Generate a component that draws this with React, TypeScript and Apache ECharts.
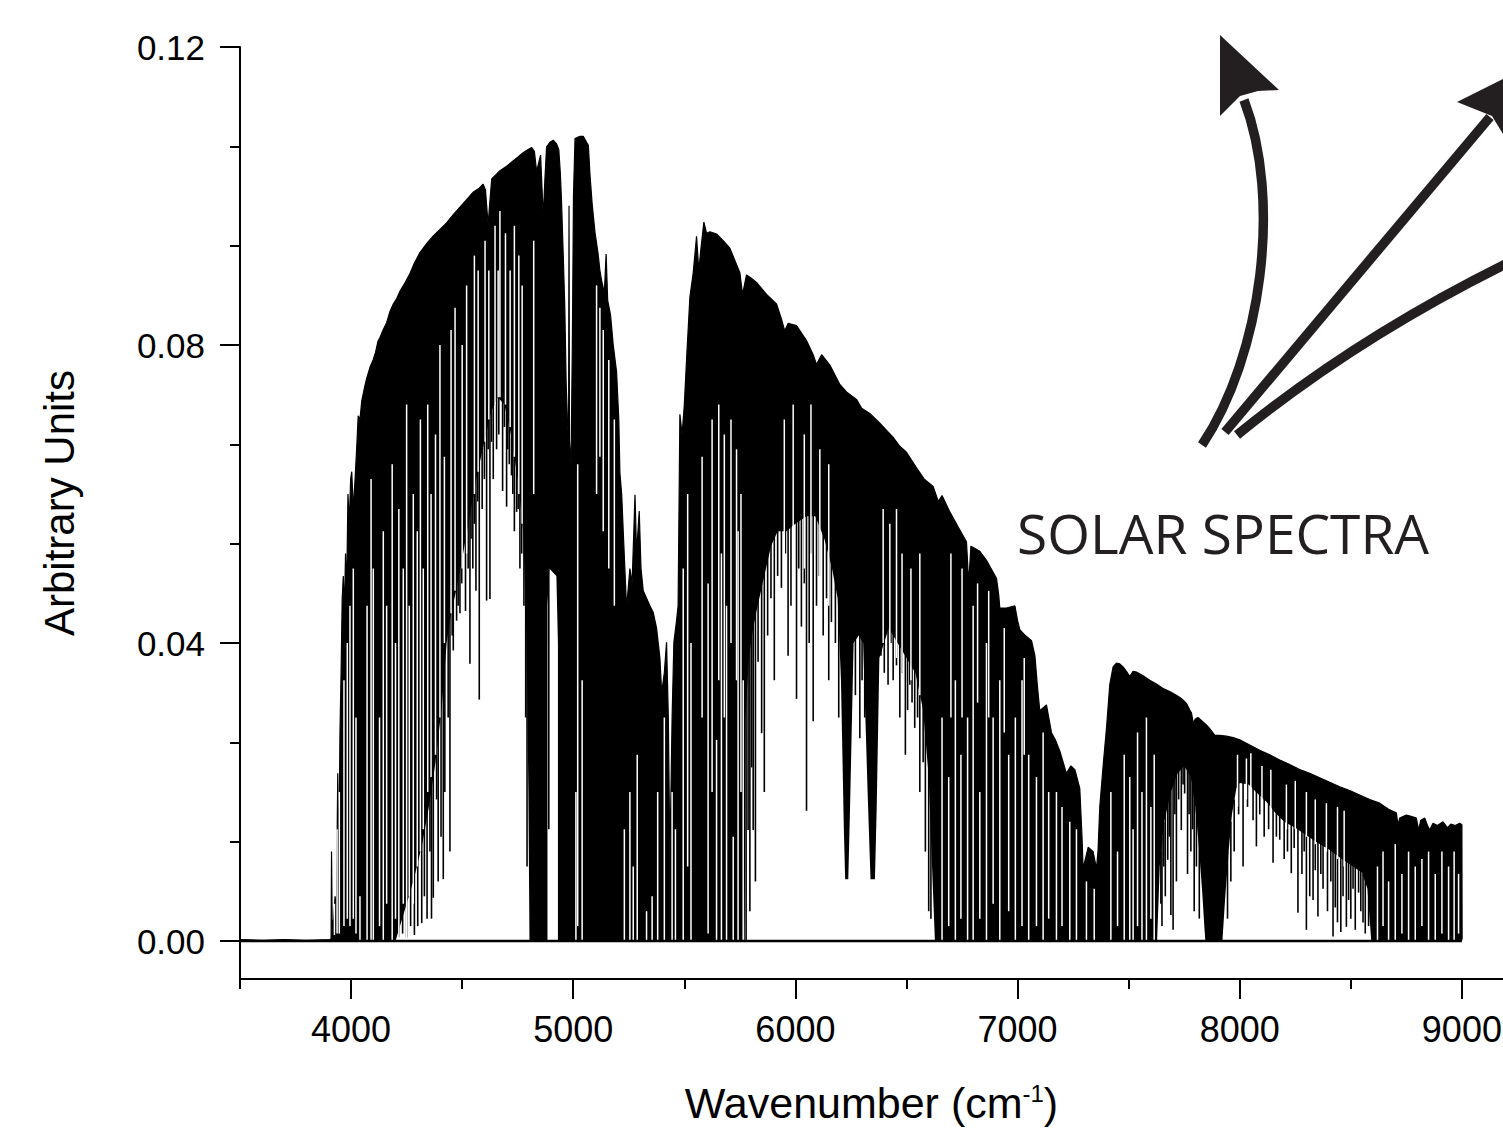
import React, { useEffect, useRef } from 'react';
import * as echarts from 'echarts';

// ---------- axis ticks ----------
const xMajorTicks = [4000, 5000, 6000, 7000, 8000, 9000];
const xMinorTicks = [3500, 4500, 5500, 6500, 7500, 8500];
const yMajorTicks = [0, 0.04, 0.08, 0.12];
const yMinorTicks = [0.01333, 0.02667, 0.05333, 0.06667, 0.09333, 0.10667];

// ---------- upper envelope of the solar spectrum (wavenumber, intensity) ----------
const envWavenumber = [
  3500, 3600, 3700, 3800, 3905, 3910, 3912, 3915, 3922, 3928, 3934, 3940, 3944, 3950, 3955, 3960, 3965, 3970, 3975, 3980,
  3986, 3992, 3998, 4003, 4010, 4018, 4025, 4032, 4040, 4048, 4055, 4062, 4070, 4085, 4099, 4110, 4121, 4130, 4144, 4160,
  4175, 4190, 4205, 4220, 4240, 4265, 4285, 4310, 4340, 4369, 4400, 4430, 4460, 4490, 4520, 4549, 4575, 4594, 4605, 4612,
  4617, 4624, 4633, 4650, 4670, 4700, 4729, 4750, 4774, 4795, 4813, 4825, 4835, 4845, 4853, 4858, 4865, 4872, 4880, 4895,
  4910, 4925, 4935, 4942, 4947, 4955, 4962, 4968, 4975, 4979, 4981, 4983, 4990, 4996, 5001, 5008, 5030, 5045, 5060, 5068,
  5075, 5085, 5098, 5112, 5120, 5128, 5140, 5148, 5155, 5168, 5180, 5195, 5205, 5210, 5218, 5225, 5240, 5255, 5265, 5278,
  5285, 5297, 5305, 5315, 5330, 5345, 5360, 5375, 5390, 5398, 5410, 5420, 5428, 5435, 5445, 5453, 5465, 5472, 5480, 5490,
  5500, 5510, 5525, 5540, 5555, 5565, 5575, 5588, 5600, 5615, 5645, 5675, 5705, 5728, 5750, 5762, 5780, 5800, 5825, 5870,
  5915, 5937, 5952, 5967, 6005, 6050, 6080, 6095, 6118, 6155, 6200, 6230, 6275, 6298, 6335, 6380, 6440, 6470, 6500, 6545,
  6580, 6620, 6643, 6660, 6695, 6732, 6770, 6780, 6790, 6830, 6860, 6905, 6915, 6920, 6950, 6988, 7000, 7010, 7035, 7063,
  7078, 7090, 7100, 7130, 7153, 7170, 7190, 7220, 7240, 7258, 7280, 7290, 7295, 7305, 7318, 7340, 7355, 7362, 7370, 7385,
  7400, 7415, 7430, 7445, 7460, 7475, 7490, 7505, 7520, 7535, 7565, 7595, 7625, 7655, 7685, 7715, 7740, 7760, 7775, 7783,
  7790, 7800, 7812, 7835, 7850, 7865, 7888, 7910, 7940, 7970, 8000, 8045, 8090, 8135, 8180, 8225, 8270, 8315, 8360, 8405,
  8450, 8495, 8540, 8585, 8630, 8675, 8705, 8712, 8720, 8750, 8775, 8795, 8805, 8815, 8833, 8845, 8855, 8870, 8890, 8915,
  8935, 8950, 8970, 8990, 9000, 9001
];
const envIntensity = [
  0.0002, 0.0001, 0.0002, 0.0001, 0.0002, 0.0003, 0.012, 0.002, 0.003, 0.006, 0.004, 0.0225, 0.008, 0.028, 0.036, 0.046, 0.049, 0.044, 0.052, 0.047,
  0.060, 0.056, 0.062, 0.063, 0.058, 0.062, 0.066, 0.0705, 0.070, 0.0725, 0.0735, 0.0745, 0.0755, 0.077, 0.078, 0.079, 0.0805, 0.081, 0.082, 0.083,
  0.0845, 0.0855, 0.0862, 0.0872, 0.0882, 0.0896, 0.091, 0.0924, 0.0936, 0.0946, 0.0955, 0.0964, 0.0975, 0.0985, 0.0995, 0.1005, 0.101, 0.1016, 0.1008, 0.098,
  0.0962, 0.099, 0.1023, 0.1028, 0.1034, 0.104, 0.1047, 0.1052, 0.1058, 0.1062, 0.1065, 0.106, 0.1033, 0.1045, 0.1055, 0.102, 0.0972, 0.102, 0.1066, 0.1072,
  0.1075, 0.107, 0.1062, 0.103, 0.0995, 0.092, 0.085, 0.075, 0.069, 0.068, 0.0987, 0.067, 0.064, 0.080, 0.100, 0.1077, 0.108, 0.108, 0.1072, 0.1068,
  0.103, 0.099, 0.0951, 0.0922, 0.090, 0.0886, 0.087, 0.0922, 0.086, 0.084, 0.080, 0.0764, 0.070, 0.0628, 0.060, 0.055, 0.0447, 0.050, 0.048, 0.0599,
  0.052, 0.0577, 0.050, 0.047, 0.046, 0.045, 0.0441, 0.042, 0.038, 0.0333, 0.036, 0.0401, 0.030, 0.011, 0.030, 0.0401, 0.043, 0.045, 0.0707, 0.068,
  0.072, 0.078, 0.0864, 0.0897, 0.0946, 0.090, 0.093, 0.0965, 0.095, 0.0952, 0.0949, 0.094, 0.093, 0.0913, 0.0897, 0.0868, 0.0894, 0.089, 0.0884, 0.0868,
  0.0855, 0.0835, 0.0819, 0.0829, 0.0826, 0.0806, 0.0787, 0.0774, 0.0787, 0.0773, 0.0747, 0.0737, 0.0727, 0.0715, 0.0708, 0.0695, 0.0676, 0.0664, 0.0656, 0.0635,
  0.062, 0.061, 0.059, 0.0598, 0.0576, 0.0556, 0.0536, 0.048, 0.053, 0.0523, 0.0511, 0.0487, 0.0465, 0.0447, 0.0447, 0.045, 0.043, 0.0418, 0.041, 0.0403,
  0.0383, 0.034, 0.0309, 0.0317, 0.0279, 0.027, 0.0255, 0.0225, 0.0235, 0.023, 0.0205, 0.014, 0.0097, 0.011, 0.0126, 0.012, 0.0097, 0.012, 0.018, 0.0235,
  0.0285, 0.0344, 0.0368, 0.0373, 0.0372, 0.0368, 0.0362, 0.0355, 0.0362, 0.0361, 0.0356, 0.035, 0.0345, 0.0339, 0.0335, 0.033, 0.0325, 0.0319, 0.031, 0.0306,
  0.0293, 0.0298, 0.030, 0.0294, 0.029, 0.0285, 0.0276, 0.0276, 0.0275, 0.0273, 0.027, 0.0263, 0.0256, 0.025, 0.0243, 0.0237, 0.023, 0.0225, 0.0219, 0.0213,
  0.0207, 0.0202, 0.0196, 0.019, 0.0185, 0.0176, 0.0172, 0.0156, 0.0165, 0.0169, 0.0167, 0.0165, 0.0149, 0.0162, 0.0165, 0.0155, 0.0149, 0.0158, 0.0155, 0.016,
  0.0152, 0.0157, 0.0155, 0.0158, 0.0156, 0.0002
];

// ---------- open (white) regions under the envelope where the lines do not reach ----------
const pocket4500: number[][] = [
  [4200, 0], [4240, 0.004], [4280, 0.008], [4320, 0.013], [4350, 0.018], [4380, 0.024], [4410, 0.032],
  [4430, 0.040], [4450, 0.044], [4480, 0.048], [4510, 0.053], [4540, 0.058], [4570, 0.063], [4600, 0.067], [4630, 0.071],
  [4660, 0.073], [4690, 0.072], [4720, 0.068], [4750, 0.062], [4775, 0.055], [4790, 0.040], [4798, 0.020], [4803, 0]
];
const pocket4900: number[][] = [[4884, 0], [4884, 0.045], [4892, 0.050], [4924, 0.049], [4931, 0.040], [4931, 0]];
const pocket6200: number[][] = [
  [5772, 0], [5776, 0.030], [5790, 0.038], [5810, 0.042], [5830, 0.045], [5860, 0.049], [5890, 0.053], [5920, 0.055],
  [5960, 0.055], [6000, 0.056], [6050, 0.057], [6090, 0.057], [6130, 0.054], [6165, 0.050], [6190, 0.046], [6205, 0.035],
  [6218, 0.015], [6224, 0.0083], [6238, 0.0083], [6246, 0.018], [6262, 0.040], [6285, 0.041], [6305, 0.040], [6325, 0.020],
  [6338, 0.0083], [6358, 0.0083], [6366, 0.018], [6378, 0.038], [6420, 0.042], [6460, 0.040], [6500, 0.038], [6540, 0.036],
  [6575, 0.031], [6600, 0.022], [6615, 0.010], [6628, 0]
];
const pocket7700: number[][] = [
  [7628, 0], [7640, 0.010], [7660, 0.016], [7690, 0.020], [7720, 0.0225], [7750, 0.0235], [7780, 0.022], [7800, 0.018],
  [7815, 0.013], [7830, 0.007], [7845, 0]
];
const pocket8200: number[][] = [
  [7922, 0], [7935, 0.006], [7950, 0.012], [7965, 0.017], [7985, 0.0205], [8000, 0.0212], [8040, 0.021], [8080, 0.0198],
  [8120, 0.0187], [8160, 0.0172], [8200, 0.016], [8250, 0.0152], [8300, 0.0142], [8350, 0.0132], [8400, 0.0123],
  [8450, 0.0112], [8500, 0.0102], [8550, 0.0092], [8575, 0.007], [8592, 0]
];
const pockets = [pocket4500, pocket4900, pocket6200, pocket7700, pocket8200];

// ---------- absorption lines hanging into the open regions: [wavenumber, from, to] ----------
const absorptionLines: number[][] = [
  [4215, 0.006, 0.0005], [4232, 0.007, 0.001], [4250, 0.009, 0.0005], [4268, 0.010, 0.002], [4285, 0.012, 0.0008],
  [4300, 0.014, 0.002], [4318, 0.016, 0.0024], [4330, 0.018, 0.006], [4342, 0.020, 0.003], [4355, 0.022, 0.012],
  [4362, 0.023, 0.003], [4370, 0.025, 0.0058], [4385, 0.028, 0.019], [4392, 0.030, 0.008], [4405, 0.034, 0.014],
  [4415, 0.037, 0.0083], [4422, 0.040, 0.020], [4437, 0.045, 0.030], [4445, 0.046, 0.012], [4455, 0.047, 0.041],
  [4460, 0.048, 0.039], [4475, 0.050, 0.043], [4482, 0.050, 0.045], [4490, 0.052, 0.044], [4498, 0.053, 0.048],
  [4515, 0.056, 0.0443], [4527, 0.058, 0.050], [4535, 0.060, 0.0372], [4540, 0.060, 0.054], [4548, 0.062, 0.050],
  [4555, 0.063, 0.056], [4562, 0.064, 0.047], [4570, 0.065, 0.059], [4577, 0.066, 0.0324], [4590, 0.068, 0.058],
  [4600, 0.069, 0.062], [4610, 0.070, 0.0457], [4617, 0.071, 0.066], [4625, 0.072, 0.0459], [4632, 0.073, 0.067],
  [4640, 0.074, 0.062], [4655, 0.075, 0.066], [4665, 0.075, 0.068], [4682, 0.075, 0.0604], [4690, 0.074, 0.069],
  [4700, 0.074, 0.0583], [4705, 0.073, 0.066], [4712, 0.072, 0.064], [4722, 0.070, 0.0625], [4728, 0.069, 0.060],
  [4735, 0.068, 0.055], [4745, 0.065, 0.0576], [4752, 0.064, 0.058], [4760, 0.062, 0.050], [4768, 0.060, 0.052],
  [4778, 0.058, 0.045], [4786, 0.050, 0.030], [4792, 0.045, 0.010],
  [4890, 0.052, 0.015],
  [5778, 0.035, 0.0], [5787, 0.040, 0.0149], [5795, 0.041, 0.004], [5803, 0.042, 0.0233], [5810, 0.043, 0.0149],
  [5820, 0.044, 0.008], [5832, 0.046, 0.0375], [5848, 0.048, 0.0279], [5860, 0.050, 0.020], [5875, 0.052, 0.041],
  [5890, 0.054, 0.046], [5905, 0.055, 0.035], [5920, 0.056, 0.049], [5937, 0.057, 0.0474], [5955, 0.057, 0.052],
  [5967, 0.057, 0.0383], [5980, 0.057, 0.045], [6005, 0.058, 0.0325], [6015, 0.058, 0.050], [6027, 0.058, 0.0422],
  [6040, 0.058, 0.048], [6050, 0.059, 0.0175], [6062, 0.059, 0.040], [6070, 0.059, 0.052], [6080, 0.059, 0.0295],
  [6095, 0.058, 0.045], [6108, 0.057, 0.049], [6125, 0.056, 0.041], [6140, 0.055, 0.046], [6150, 0.054, 0.035],
  [6162, 0.052, 0.0428], [6180, 0.049, 0.040], [6195, 0.047, 0.030], [6270, 0.042, 0.033], [6290, 0.043, 0.0272],
  [6300, 0.042, 0.035], [6312, 0.040, 0.030], [6385, 0.042, 0.0383], [6400, 0.043, 0.036], [6417, 0.044, 0.0344],
  [6430, 0.043, 0.040], [6440, 0.043, 0.035], [6455, 0.042, 0.037], [6470, 0.041, 0.030], [6480, 0.040, 0.036],
  [6495, 0.040, 0.025], [6505, 0.039, 0.031], [6515, 0.039, 0.0344], [6525, 0.038, 0.032], [6537, 0.038, 0.0286],
  [6550, 0.037, 0.030], [6560, 0.036, 0.020], [6575, 0.033, 0.024], [6585, 0.032, 0.012], [6600, 0.026, 0.004],
  [6610, 0.018, 0.003],
  [7645, 0.012, 0.005], [7650, 0.014, 0.002], [7658, 0.016, 0.010], [7665, 0.018, 0.006], [7676, 0.019, 0.0109],
  [7683, 0.020, 0.014], [7690, 0.021, 0.0035], [7700, 0.022, 0.0015], [7708, 0.022, 0.017], [7715, 0.023, 0.008],
  [7725, 0.024, 0.019], [7737, 0.025, 0.0149], [7745, 0.025, 0.021], [7752, 0.025, 0.0198], [7765, 0.024, 0.009],
  [7772, 0.023, 0.017], [7780, 0.023, 0.012], [7788, 0.021, 0.015], [7795, 0.020, 0.004], [7805, 0.018, 0.010],
  [7818, 0.014, 0.003],
  [7945, 0.012, 0.003], [7960, 0.016, 0.008], [7975, 0.019, 0.012], [7995, 0.022, 0.017], [8015, 0.022, 0.010],
  [8035, 0.022, 0.018], [8060, 0.0215, 0.0162], [8075, 0.021, 0.0127], [8090, 0.021, 0.017], [8110, 0.0195, 0.014],
  [8130, 0.019, 0.015], [8150, 0.018, 0.0105], [8165, 0.018, 0.014], [8180, 0.0175, 0.0136], [8200, 0.0165, 0.011],
  [8215, 0.0165, 0.012], [8232, 0.016, 0.0091], [8245, 0.016, 0.0125], [8262, 0.0155, 0.0038], [8280, 0.015, 0.009],
  [8290, 0.015, 0.012], [8300, 0.0145, 0.0015], [8315, 0.014, 0.006], [8330, 0.0138, 0.0055], [8340, 0.014, 0.0095],
  [8352, 0.0135, 0.0033], [8365, 0.0135, 0.009], [8375, 0.013, 0.007], [8395, 0.0128, 0.004], [8410, 0.0125, 0.008],
  [8420, 0.0122, 0.0006], [8430, 0.012, 0.0045], [8440, 0.0118, 0.0025], [8455, 0.0113, 0.0012], [8465, 0.011, 0.006],
  [8480, 0.0108, 0.0019], [8490, 0.0105, 0.0055], [8500, 0.0104, 0.003], [8510, 0.0102, 0.007], [8520, 0.010, 0.0015],
  [8535, 0.0098, 0.0065], [8545, 0.0095, 0.004], [8555, 0.009, 0.0025], [8565, 0.0085, 0.001], [8580, 0.0075, 0.002]
];

// ---------- narrow gaps between lines inside the dense regions: [wavenumber, from, to] ----------
const gapLines: number[][] = [
  [3925, 0.0008, 0.005], [3937, 0.001, 0.015], [3947, 0.001, 0.020], [3968, 0.002, 0.035], [3983, 0.003, 0.040],
  [3995, 0.002, 0.045], [4010, 0.003, 0.050], [4022, 0.001, 0.030], [4040, 0.0, 0.006], [4072, 0.0, 0.045],
  [4090, 0.0, 0.062], [4100, 0.0, 0.050], [4128, 0.002, 0.030], [4145, 0.0, 0.055], [4160, 0.005, 0.045],
  [4185, 0.0, 0.064], [4200, 0.003, 0.040], [4215, 0.0, 0.058], [4235, 0.005, 0.050], [4250, 0.0, 0.072],
  [4262, 0.006, 0.045], [4280, 0.005, 0.060], [4298, 0.010, 0.055], [4312, 0.012, 0.070], [4325, 0.015, 0.050],
  [4345, 0.020, 0.072], [4360, 0.022, 0.060], [4380, 0.025, 0.068], [4400, 0.030, 0.080], [4420, 0.040, 0.065],
  [4450, 0.044, 0.082], [4468, 0.047, 0.085], [4500, 0.050, 0.080], [4520, 0.052, 0.088], [4555, 0.060, 0.092],
  [4572, 0.063, 0.090], [4603, 0.067, 0.094], [4620, 0.070, 0.090], [4648, 0.072, 0.096], [4662, 0.073, 0.090],
  [4670, 0.073, 0.098], [4695, 0.072, 0.095], [4716, 0.069, 0.090], [4735, 0.065, 0.096], [4755, 0.060, 0.092],
  [4770, 0.056, 0.088], [4822, 0.060, 0.094],
  [5012, 0.0, 0.020], [5020, 0.002, 0.064], [5040, 0.0, 0.035],
  [5105, 0.060, 0.088], [5120, 0.065, 0.085], [5135, 0.055, 0.082], [5160, 0.050, 0.078], [5185, 0.045, 0.070],
  [5230, 0.0, 0.015], [5255, 0.0, 0.020], [5270, 0.0, 0.010], [5288, 0.0, 0.025], [5330, 0.0, 0.004],
  [5355, 0.0, 0.006], [5380, 0.0, 0.020], [5410, 0.0, 0.030], [5445, 0.0, 0.020], [5460, 0.0, 0.015],
  [5495, 0.0, 0.050], [5515, 0.010, 0.060], [5530, 0.0, 0.040], [5580, 0.030, 0.065], [5607, 0.001, 0.048],
  [5625, 0.020, 0.070], [5645, 0.0, 0.027], [5655, 0.035, 0.072], [5667, 0.0, 0.052], [5680, 0.030, 0.068],
  [5690, 0.0, 0.045], [5710, 0.040, 0.070], [5720, 0.0, 0.014], [5735, 0.035, 0.066], [5742, 0.0, 0.055],
  [5755, 0.020, 0.060], [5765, 0.0, 0.035],
  [5950, 0.050, 0.070], [5990, 0.050, 0.072], [6040, 0.050, 0.068], [6070, 0.050, 0.072], [6110, 0.048, 0.066],
  [6150, 0.045, 0.064], [6395, 0.040, 0.058], [6425, 0.040, 0.056], [6455, 0.038, 0.058], [6480, 0.036, 0.052],
  [6520, 0.035, 0.050], [6560, 0.033, 0.052],
  [6660, 0.0, 0.030], [6690, 0.002, 0.022], [6720, 0.0, 0.035], [6745, 0.003, 0.025], [6775, 0.0, 0.030],
  [6800, 0.0, 0.045], [6830, 0.003, 0.020], [6860, 0.0, 0.040], [6890, 0.005, 0.030], [6920, 0.0, 0.035],
  [6960, 0.004, 0.025], [6990, 0.0, 0.030], [7020, 0.002, 0.035], [7050, 0.0, 0.025], [7085, 0.002, 0.022],
  [7115, 0.0, 0.028], [7140, 0.003, 0.020], [7175, 0.0, 0.020], [7200, 0.002, 0.018], [7235, 0.0, 0.016],
  [7265, 0.0, 0.015], [7310, 0.0, 0.008], [7345, 0.0, 0.007],
  [6700, 0.030, 0.052], [6750, 0.030, 0.050], [6820, 0.032, 0.048], [6870, 0.030, 0.047], [6940, 0.028, 0.042],
  [7030, 0.025, 0.038],
  [7420, 0.0, 0.020], [7450, 0.002, 0.012], [7480, 0.0, 0.025], [7505, 0.0, 0.022], [7520, 0.0, 0.015],
  [7540, 0.002, 0.028], [7560, 0.0, 0.020], [7580, 0.0, 0.030], [7600, 0.003, 0.018], [7615, 0.0, 0.025],
  [7990, 0.018, 0.025], [8030, 0.019, 0.0245], [8050, 0.019, 0.0252], [8100, 0.018, 0.0235], [8140, 0.017, 0.023],
  [8210, 0.015, 0.021], [8250, 0.015, 0.0215], [8300, 0.014, 0.020], [8340, 0.013, 0.019], [8390, 0.012, 0.0185],
  [8440, 0.011, 0.018], [8470, 0.010, 0.0175],
  [8620, 0.0, 0.010], [8645, 0.002, 0.012], [8670, 0.0, 0.008], [8700, 0.0, 0.013], [8730, 0.001, 0.009],
  [8760, 0.0, 0.012], [8790, 0.0, 0.010], [8820, 0.002, 0.011], [8850, 0.0, 0.012], [8880, 0.0, 0.009],
  [8910, 0.001, 0.012], [8940, 0.0, 0.010], [8965, 0.0, 0.012], [8985, 0.001, 0.009]
];

const baselineX = [3500, 9000];

const INK = '#231f20';
const FONT = 'Liberation Sans';

function verticalLine(color: string, width: number) {
  return (params: any, api: any) => {
    const x = api.value(0);
    const a = api.coord([x, api.value(1)]);
    const b = api.coord([x, api.value(2)]);
    return {
      type: 'line',
      shape: { x1: a[0], y1: a[1], x2: b[0], y2: b[1] },
      style: { stroke: color, lineWidth: width },
      silent: true,
    };
  };
}

export default function App() {
  const ref = useRef<HTMLDivElement>(null);

  useEffect(() => {
    if (!ref.current) return;
    const chart = echarts.init(ref.current, null, { renderer: 'svg' });

    const envelope = envWavenumber.map((w, i) => [w, envIntensity[i]]);

    const option: any = {
      animation: false,
      backgroundColor: '#fff',
      textStyle: { fontFamily: FONT },
      grid: { left: 240, right: 0, top: 47, bottom: 155, containLabel: false, outerBoundsMode: 'none' },
      xAxis: [
        {
          type: 'value', min: 3500, max: 9185, position: 'bottom',
          axisLine: { show: true, onZero: false, lineStyle: { color: '#000', width: 2 } },
          axisTick: { show: true, length: 20, customValues: xMajorTicks, lineStyle: { color: '#000', width: 2 } },
          axisLabel: { customValues: xMajorTicks, color: '#000', fontSize: 36, fontFamily: FONT, margin: 32, formatter: (v: number) => String(v) },
          splitLine: { show: false },
          name: 'Wavenumber (cm{sup|-1})',
          nameLocation: 'middle', nameGap: 102,
          nameTextStyle: {
            color: '#000', fontSize: 43, fontFamily: FONT,
            rich: { sup: { fontSize: 24, fontFamily: FONT, color: '#000', verticalAlign: 'top', lineHeight: 30 } },
          },
        },
        {
          type: 'value', min: 3500, max: 9185, position: 'bottom',
          axisLine: { show: false, onZero: false },
          axisTick: { show: true, length: 10, customValues: xMinorTicks, lineStyle: { color: '#000', width: 2 } },
          axisLabel: { show: false },
          splitLine: { show: false },
        },
      ],
      yAxis: [
        {
          type: 'value', min: -0.0051, max: 0.12, position: 'left',
          axisLine: { show: true, onZero: false, lineStyle: { color: '#000', width: 2 } },
          axisTick: { show: true, length: 20, customValues: yMajorTicks, lineStyle: { color: '#000', width: 2 } },
          axisLabel: { customValues: yMajorTicks, color: '#000', fontSize: 35, fontFamily: FONT, margin: 35, formatter: (v: number) => v.toFixed(2) },
          splitLine: { show: false },
          name: 'Arbitrary Units', nameLocation: 'middle', nameRotate: 90, nameGap: 160,
          nameTextStyle: { color: '#000', fontSize: 42, fontFamily: FONT, padding: [0, 0, 0, 20] },
        },
        {
          type: 'value', min: -0.0051, max: 0.12, position: 'left',
          axisLine: { show: false, onZero: false },
          axisTick: { show: true, length: 10, customValues: yMinorTicks, lineStyle: { color: '#000', width: 2 } },
          axisLabel: { show: false },
          splitLine: { show: false },
        },
      ],
      series: [
        {
          name: 'spectrum', type: 'line', xAxisIndex: 0, yAxisIndex: 0,
          data: envelope, symbol: 'none', showSymbol: false, smooth: false,
          lineStyle: { color: '#000', width: 1.2 },
          areaStyle: { color: '#000', opacity: 1 },
          silent: true, z: 2,
        },
        {
          name: 'open', type: 'custom', xAxisIndex: 0, yAxisIndex: 0,
          data: pockets.map((p, i) => [p[0][0], p[0][1], i]),
          renderItem: (params: any, api: any) => {
            const poly = pockets[api.value(2)];
            return {
              type: 'polygon',
              shape: { points: poly.map((pt) => api.coord(pt)) },
              style: { fill: '#fff', stroke: null },
              silent: true,
            };
          },
          silent: true, z: 3,
        },
        {
          name: 'lines', type: 'custom', xAxisIndex: 0, yAxisIndex: 0,
          data: absorptionLines, renderItem: verticalLine('#000', 1.6), silent: true, z: 4,
        },
        {
          name: 'gaps', type: 'custom', xAxisIndex: 0, yAxisIndex: 0,
          data: gapLines, renderItem: verticalLine('#fff', 1.5), silent: true, z: 4,
        },
        {
          name: 'baseline', type: 'line', xAxisIndex: 0, yAxisIndex: 0,
          data: baselineX.map((x) => [x, 0]), symbol: 'none',
          lineStyle: { color: '#000', width: 2.5 }, silent: true, z: 5,
        },
      ],
      graphic: [
        {
          type: 'text', x: 1017, y: 532, silent: true,
          style: { text: 'SOLAR SPECTRA', fill: INK, fontSize: 55, fontFamily: 'Open Sans', align: 'left', verticalAlign: 'middle' },
        },
        {
          type: 'bezierCurve', silent: true,
          shape: { x1: 1202, y1: 445, cpx1: 1262, cpy1: 355, cpx2: 1282, cpy2: 200, x2: 1244, y2: 100 },
          style: { stroke: INK, lineWidth: 9.5, fill: null },
        },
        {
          type: 'polygon', silent: true,
          shape: { points: [[1220, 35], [1279, 90], [1258, 91], [1240, 96], [1220, 116]] },
          style: { fill: INK },
        },
        {
          type: 'line', silent: true,
          shape: { x1: 1225, y1: 432, x2: 1490, y2: 117 },
          style: { stroke: INK, lineWidth: 9.5 },
        },
        {
          type: 'polygon', silent: true,
          shape: { points: [[1457, 102], [1535, 63], [1511, 147], [1492, 116]] },
          style: { fill: INK },
        },
        {
          type: 'bezierCurve', silent: true,
          shape: { x1: 1237, y1: 435, cpx1: 1361, cpy1: 334, x2: 1520, y2: 257 },
          style: { stroke: INK, lineWidth: 9.5, fill: null },
        },
      ],
    };

    chart.setOption(option);
    return () => chart.dispose();
  }, []);

  return (
    <div
      ref={ref}
      style={{ position: 'absolute', left: 0, top: 0, width: 1503, height: 1134, background: '#fff' }}
    />
  );
}
